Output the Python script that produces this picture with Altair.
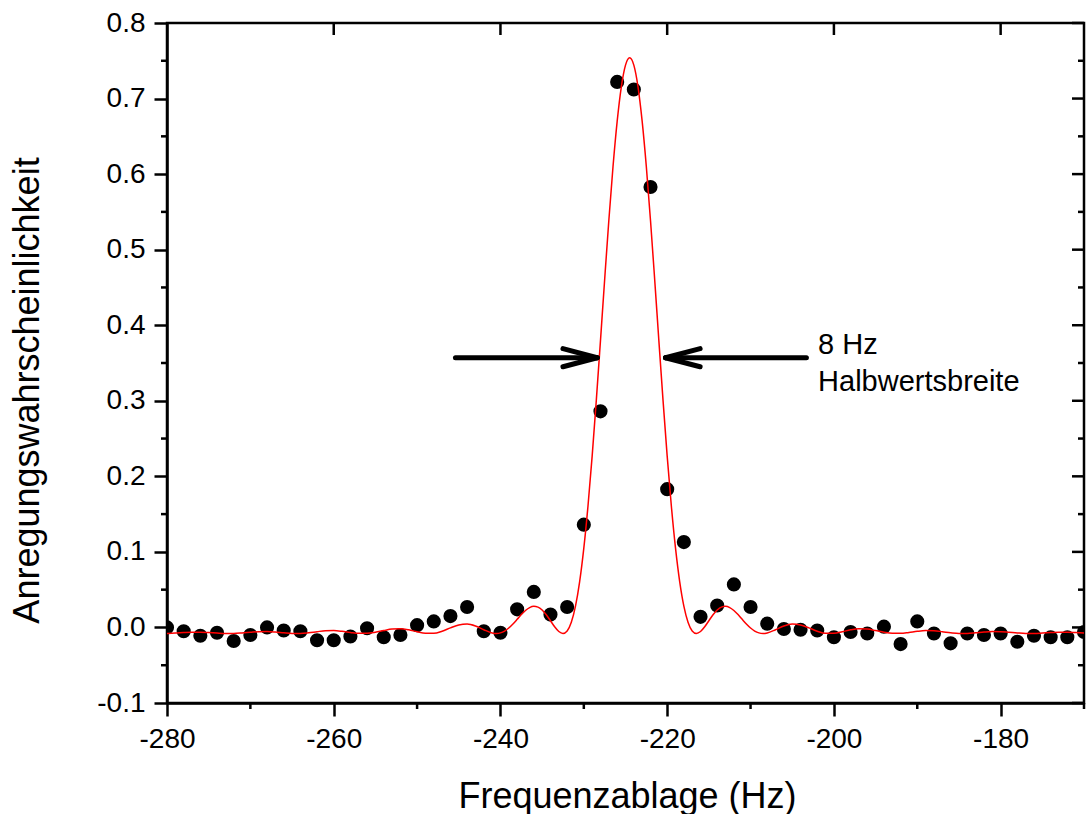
import altair as alt
import pandas as pd

# ---- measured data points (Hz, excitation probability) ----
freq = [-280, -278, -276, -274, -272, -270, -268, -266, -264, -262, -260, -258, -256, -254,
        -252, -250, -248, -246, -244, -242, -240, -238, -236, -234, -232, -230, -228, -226,
        -224, -222, -220, -218, -216, -214, -212, -210, -208, -206, -204, -202, -200, -198,
        -196, -194, -192, -190, -188, -186, -184, -182, -180, -178, -176, -174, -172, -170]
prob = [0.000, -0.005, -0.011, -0.007, -0.018, -0.010, 0.000, -0.004, -0.005, -0.017, -0.017,
        -0.012, -0.001, -0.013, -0.010, 0.003, 0.008, 0.015, 0.027, -0.005, -0.007, 0.024,
        0.047, 0.017, 0.027, 0.136, 0.286, 0.722, 0.712, 0.583, 0.183, 0.113, 0.014, 0.029,
        0.057, 0.027, 0.005, -0.002, -0.003, -0.004, -0.013, -0.006, -0.008, 0.001, -0.022,
        0.008, -0.008, -0.021, -0.008, -0.010, -0.008, -0.019, -0.011, -0.013, -0.013, -0.006]

# ---- fit curve ----
fit_x_left = [-280, -279, -278, -277, -276, -275, -274, -273, -272, -271, -270, -269, -268, -267,
              -266, -265, -264, -263, -262, -261, -260, -259, -258, -257, -256, -255, -254, -253,
              -252, -251, -250, -249, -248, -247, -246, -245, -244, -243, -242, -241]
fit_y_left = [-0.0079, -0.0075, -0.0068, -0.0063, -0.0062, -0.0067, -0.0074, -0.0079, -0.0079,
              -0.0073, -0.0064, -0.0056, -0.0055, -0.0061, -0.0071, -0.0079, -0.0079, -0.0070,
              -0.0056, -0.0044, -0.0042, -0.0051, -0.0066, -0.0078, -0.0078, -0.0064, -0.0041,
              -0.0022, -0.0017, -0.0031, -0.0057, -0.0077, -0.0077, -0.0050, -0.0006, 0.0033,
              0.0045, 0.0020, -0.0030, -0.0073]
fit_x_core = [-240.5, -240, -239.5, -239, -238.5, -238, -237.5, -237, -236.5, -236, -235.5, -235,
              -234.5, -234, -233.5, -233, -232.5, -232, -231.5, -231, -230.5, -230, -229.5, -229,
              -228.5, -228, -227.5, -227, -226.5, -226, -225.5, -225, -224.5, -224, -223.5, -223,
              -222.5, -222, -221.5, -221, -220.5, -220, -219.5, -219, -218.5, -218, -217.5, -217,
              -216.5, -216, -215.5, -215, -214.5, -214, -213.5, -213, -212.5, -212, -211.5, -211,
              -210.5, -210, -209.5, -209, -208.5]
fit_y_core = [-0.0080, -0.0072, -0.0048, -0.0007, 0.0046, 0.0107, 0.0170, 0.0224, 0.0263, 0.0279,
              0.0269, 0.0230, 0.0167, 0.0089, 0.0009, -0.0054, -0.0080, -0.0047, 0.0068, 0.0281,
              0.0606, 0.1049, 0.1607, 0.2267, 0.3008, 0.3800, 0.4606, 0.5386, 0.6097, 0.6698,
              0.7156, 0.7443, 0.7540, 0.7443, 0.7156, 0.6698, 0.6097, 0.5386, 0.4606, 0.3800,
              0.3008, 0.2267, 0.1607, 0.1049, 0.0606, 0.0281, 0.0068, -0.0047, -0.0080, -0.0054,
              0.0009, 0.0089, 0.0167, 0.0230, 0.0269, 0.0279, 0.0263, 0.0224, 0.0170, 0.0107,
              0.0046, -0.0007, -0.0048, -0.0072, -0.0080]
fit_x_right = [-208, -207, -206, -205, -204, -203, -202, -201, -200, -199, -198, -197, -196, -195,
               -194, -193, -192, -191, -190, -189, -188, -187, -186, -185, -184, -183, -182, -181,
               -180, -179, -178, -177, -176, -175, -174, -173, -172, -171, -170]
fit_y_right = [-0.0073, -0.0030, 0.0020, 0.0045, 0.0033, -0.0006, -0.0050, -0.0077, -0.0077,
               -0.0057, -0.0031, -0.0017, -0.0022, -0.0041, -0.0064, -0.0078, -0.0078, -0.0066,
               -0.0051, -0.0042, -0.0044, -0.0056, -0.0070, -0.0079, -0.0079, -0.0071, -0.0061,
               -0.0055, -0.0056, -0.0064, -0.0073, -0.0079, -0.0079, -0.0074, -0.0067, -0.0062,
               -0.0063, -0.0068, -0.0075]

# ---- axes ----
x_domain = [-280, -170]
y_domain = [-0.1, 0.8]
x_major = [-280, -260, -240, -220, -200, -180]
x_minor = [-270, -250, -230, -210, -190, -170]
y_major = [-0.1, 0.0, 0.1, 0.2, 0.3, 0.4, 0.5, 0.6, 0.7, 0.8]
y_minor = [-0.05, 0.05, 0.15, 0.25, 0.35, 0.45, 0.55, 0.65, 0.75]
x_title = "Frequenzablage (Hz)"
y_title = "Anregungswahrscheinlichkeit"

# ---- annotation (arrows marking the half width) ----
arrow_f = [-245.4, -228.4, -228.4, -203.3, -220.2, -220.2]
arrow_f2 = [-228.4, -232.5, -232.5, -220.2, -216.05, -216.05]
arrow_p = [0.357, 0.357, 0.357, 0.357, 0.357, 0.357]
arrow_p2 = [0.357, 0.369, 0.345, 0.357, 0.369, 0.345]
note_text = ["8 Hz\nHalbwertsbreite"]
note_f = [-201.9]
note_p = [0.3614]

FONT = "Liberation Sans"

pts_df = pd.DataFrame({"f": freq, "p": prob})
fit_df = pd.DataFrame({"f": fit_x_left + fit_x_core + fit_x_right,
                       "p": fit_y_left + fit_y_core + fit_y_right})

xs = alt.Scale(domain=x_domain, nice=False, zero=False)
ys = alt.Scale(domain=y_domain, nice=False, zero=False)

x_axis = alt.Axis(values=x_major, labelExpr="datum.value < 0 ? '-' + format(-datum.value, 'd') : format(datum.value, 'd')",
                  grid=False, tickSize=13, tickWidth=2.5, tickColor="black", domainColor="black",
                  domainWidth=2.5, labelPadding=9, labelFontSize=28, labelFont=FONT, labelColor="black",
                  labelFlush=False, labelOverlap=False,
                  titleFont=FONT, titleFontSize=36, titleFontWeight="normal", titleColor="black",
                  titleX=460, titleY=104, titleBaseline="alphabetic")
y_axis = alt.Axis(values=y_major, labelExpr="datum.value < -0.00001 ? '-' + format(-datum.value, '.1f') : format(abs(datum.value), '.1f')",
                  grid=False, tickSize=13, tickWidth=2.5, tickColor="black", domainColor="black",
                  domainWidth=2.5, labelPadding=9, labelFontSize=28, labelFont=FONT, labelColor="black",
                  labelOverlap=False,
                  titleFont=FONT, titleFontSize=36, titleFontWeight="normal", titleColor="black",
                  titleX=-129, titleY=367, titleBaseline="alphabetic", titleAngle=270)


def X(field="f"):
    return alt.X(f"{field}:Q", scale=xs, axis=x_axis, title=x_title)


def Y(field="p"):
    return alt.Y(f"{field}:Q", scale=ys, axis=y_axis, title=y_title)


points = alt.Chart(pts_df).mark_circle(size=200, color="black", opacity=1, clip=True).encode(x=X(), y=Y())

fit = alt.Chart(fit_df).mark_line(color="#ff0000", strokeWidth=1.5, interpolate="monotone",
                                  clip=True).encode(x=X(), y=Y())


def tick_layer(df, orient, size, xoff=0, yoff=0):
    return alt.Chart(df).mark_tick(orient=orient, size=size, thickness=2.5, color="black",
                                   opacity=1, xOffset=xoff, yOffset=yoff).encode(x=X(), y=Y())


bottom_minor = tick_layer(pd.DataFrame({"f": x_minor, "p": [y_domain[0]] * len(x_minor)}), "vertical", 6, yoff=3)
left_minor = tick_layer(pd.DataFrame({"f": [x_domain[0]] * len(y_minor), "p": y_minor}), "horizontal", 6, xoff=-3)
top_major = tick_layer(pd.DataFrame({"f": x_major[1:], "p": [y_domain[1]] * (len(x_major) - 1)}), "vertical", 12, yoff=6)
right_major = tick_layer(pd.DataFrame({"f": [x_domain[1]] * len(y_major), "p": y_major}), "horizontal", 12, xoff=-6)
right_minor = tick_layer(pd.DataFrame({"f": [x_domain[1]] * len(y_minor), "p": y_minor}), "horizontal", 6, xoff=-3)

arrows = alt.Chart(pd.DataFrame({"f": arrow_f, "f2": arrow_f2, "p": arrow_p, "p2": arrow_p2})).mark_rule(
    color="black", strokeWidth=5, strokeCap="round").encode(
    x=X(), x2="f2:Q", y=Y(), y2="p2:Q",
)

note = alt.Chart(pd.DataFrame({"f": note_f, "p": note_p, "t": note_text})).mark_text(
    align="left", baseline="alphabetic", font=FONT, fontSize=29, color="black",
    lineBreak="\n", lineHeight=37).encode(x=X(), y=Y(), text="t:N")

chart = alt.layer(points, fit, bottom_minor, left_minor, top_major, right_major, right_minor,
                  arrows, note).properties(
    width=917, height=680,
    padding={"left": 167, "top": 23, "right": 2, "bottom": 111},
    autosize=alt.AutoSizeParams(type="none"),
    background="white",
).configure_view(stroke="black", strokeWidth=2.5)

chart.save("out.html", embed_options={"renderer": "svg", "actions": False})
